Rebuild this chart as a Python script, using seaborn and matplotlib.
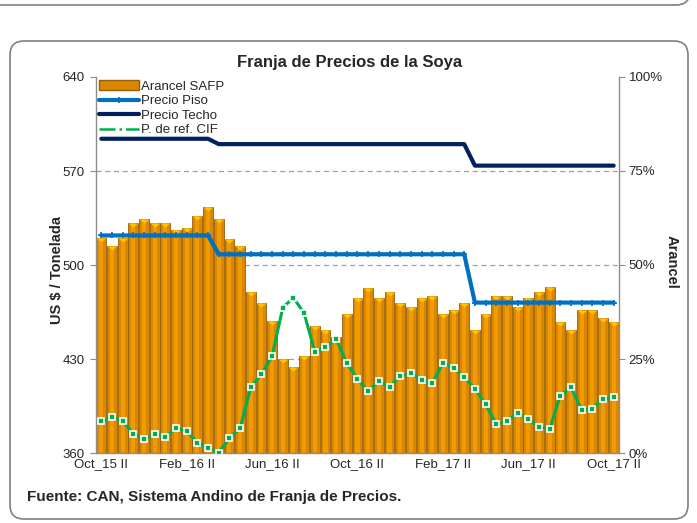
"""
Franja de Precios de la Soya
Arancel SAFP (bars, right axis) with price band lines (left axis)
"""

import numpy as np
import matplotlib
matplotlib.use('Agg')
import matplotlib.pyplot as plt
import seaborn as sns
from matplotlib.lines import Line2D
from matplotlib.patches import Patch, FancyBboxPatch
from matplotlib.transforms import IdentityTransform

# Periods: second half of Oct 2015 to second half of Oct 2017 (biweekly)
month_labels = ['Jan', 'Feb', 'Mar', 'Apr', 'May', 'Jun', 'Jul', 'Aug', 'Sep', 'Oct', 'Nov', 'Dec']
periods = ['Oct_15 II']
for yr in [15, 16, 17]:
    for i, m in enumerate(month_labels):
        for half in ['I', 'II']:
            if yr == 15 and i < 10:
                continue
            if yr == 17 and (i > 9 or (i == 9 and half == 'II')):
                continue
            periods.append(f'{m}_{yr} {half}')
periods.append('Oct_17 II')

tick_labels = ['Oct_15 II', 'Feb_16 II', 'Jun_16 II', 'Oct_16 II', 'Feb_17 II', 'Jun_17 II', 'Oct_17 II']

# Arancel SAFP (%)
arancel = [57.1, 55.1, 57.1, 61.1, 62.2, 61.1, 61.1, 59.2, 59.9, 63.0,
           65.3, 62.2, 57.0, 55.1, 42.9, 39.9, 35.0, 24.9, 23.0, 25.9,
           33.9, 32.7, 30.9, 36.9, 41.1, 44.0, 41.1, 42.9, 40.0, 38.9,
           41.1, 41.8, 37.0, 38.1, 40.0, 32.8, 37.0, 41.8, 41.8, 38.9,
           41.1, 42.9, 44.1, 34.9, 32.7, 38.0, 38.0, 35.8, 34.9]

# Precio Piso (US$/t)
piso = [522, 522, 522, 522, 522, 522, 522, 522, 522, 522,
        522, 508, 508, 508, 508, 508, 508, 508, 508, 508,
        508, 508, 508, 508, 508, 508, 508, 508, 508, 508,
        508, 508, 508, 508, 508, 472, 472, 472, 472, 472,
        472, 472, 472, 472, 472, 472, 472, 472, 472]

# Precio Techo (US$/t)
techo = [594, 594, 594, 594, 594, 594, 594, 594, 594, 594,
         594, 590, 590, 590, 590, 590, 590, 590, 590, 590,
         590, 590, 590, 590, 590, 590, 590, 590, 590, 590,
         590, 590, 590, 590, 590, 574, 574, 574, 574, 574,
         574, 574, 574, 574, 574, 574, 574, 574, 574]

# P. de ref. CIF (US$/t)
cif = [383.9, 386.8, 383.9, 374.2, 370.2, 374.2, 372.2, 378.4, 376.4, 367.7,
       363.7, 360.3, 371.0, 378.4, 409.0, 418.6, 432.3, 468.2, 475.7, 464.0,
       435.5, 438.7, 444.9, 427.0, 415.1, 406.0, 413.4, 409.0, 417.4, 419.4,
       414.4, 411.9, 427.0, 423.6, 416.4, 407.9, 396.3, 381.4, 383.9, 390.0,
       385.1, 379.6, 377.7, 402.7, 409.0, 392.0, 393.0, 400.5, 401.5]

sns.set_style('white')
plt.rcParams['font.family'] = ['Liberation Sans', 'DejaVu Sans']

BAR = '#DA8600'
BAR_EDGE = '#94600A'
BAR_LIGHT = '#F09A04'
TOP = '#FFC400'
BLUE = '#0070C0'
NAVY = '#002060'
GREEN = '#00B050'
GRAY = '#8C8C8C'

fig = plt.figure(figsize=(6.97, 5.23), dpi=100)
ax = fig.add_axes([96 / 697, 1 - 453 / 523, (619 - 96) / 697, (453 - 77) / 523])
ax2 = ax.twinx()

x = np.arange(len(periods))

# bars (right axis)
sns.barplot(x=periods, y=arancel, order=periods, ax=ax2, color=BAR, saturation=1,
            width=0.92, edgecolor=BAR_EDGE, linewidth=0.6, zorder=2)
ax2.bar(x, arancel, width=0.38, color=BAR_LIGHT, linewidth=0, zorder=3)
top_marker = [(-0.5, 0), (0.5, 0), (0, -0.4), (-0.5, 0)]
ax2.plot(x, arancel, ls='none', marker=top_marker, ms=7.2, color=TOP,
         markeredgewidth=0, zorder=4)
for lvl in [25, 50, 75]:
    ax2.axhline(lvl, color='#A0A0A0', lw=0.9, ls=(0, (4, 3)), zorder=1)
ax2.set_ylim(0, 100)
ax2.set_yticks([0, 25, 50, 75, 100])
ax2.set_yticklabels(['0%', '25%', '50%', '75%', '100%'])
ax2.set_ylabel('')

# lines (left axis), drawn above the bars
ax.set_zorder(ax2.get_zorder() + 1)
ax.patch.set_visible(False)
sns.lineplot(x=x, y=techo, ax=ax, color=NAVY, lw=3, zorder=5)
sns.lineplot(x=x, y=piso, ax=ax, color=BLUE, lw=3, marker='+', ms=5,
             markeredgewidth=1.2, markeredgecolor=BLUE, zorder=6)
sns.lineplot(x=x, y=cif, ax=ax, color=GREEN, lw=2.2, marker='s', ms=4.5,
             markerfacecolor=GREEN, markeredgecolor='white', markeredgewidth=1.2, zorder=7)

ax.set_ylim(360, 640)
ax.set_yticks([360, 430, 500, 570, 640])
ax.set_xlim(-0.5, len(periods) - 0.5)
ax.set_xticks(np.arange(0, len(periods), 8))
ax.set_xticklabels(tick_labels)
ax.set_xticks(np.arange(-0.5, len(periods) - 1, 4), minor=True)
ax.set_xlabel('')
ax.set_ylabel('')

for a in (ax, ax2):
    for s in a.spines.values():
        s.set_color(GRAY)
        s.set_linewidth(1)
    a.spines['top'].set_visible(False)
ax.spines['right'].set_visible(False)
ax2.spines['left'].set_visible(False)
ax2.spines['bottom'].set_visible(False)

ax.tick_params(axis='y', direction='out', length=4, color=GRAY, labelsize=9.5, pad=4)
ax2.tick_params(axis='y', direction='out', length=4, color=GRAY, labelsize=9.5, pad=3)
ax.tick_params(axis='x', which='major', length=0, labelsize=9.5, pad=4)
ax.tick_params(axis='x', which='minor', direction='out', length=4, color=GRAY)

# legend
handles = [
    Patch(facecolor=BAR, edgecolor=BAR_EDGE),
    Line2D([], [], color=BLUE, lw=3, marker='+', ms=5, markeredgewidth=1.2),
    Line2D([], [], color=NAVY, lw=3),
    Line2D([], [], color=GREEN, lw=1.8, ls='-.'),
]
labels = ['Arancel SAFP', 'Precio Piso', 'Precio Techo', 'P. de ref. CIF']
ax.legend(handles, labels, loc='upper left', bbox_to_anchor=(0.0, 1.0), frameon=False,
          fontsize=9.5, handlelength=3.0, handletextpad=0.15, labelspacing=0.18,
          borderpad=0.1, borderaxespad=0.15)

# texts
fig.text(350 / 697, 1 - 62 / 523, 'Franja de Precios de la Soya', ha='center', va='center',
         fontsize=12, fontweight='bold')
fig.text(57 / 697, 1 - 270 / 523, 'US $ / Tonelada', ha='center', va='center',
         rotation=90, fontsize=10.5, fontweight='bold')
fig.text(672 / 697, 1 - 262 / 523, 'Arancel', ha='center', va='center',
         rotation=270, fontsize=10.5, fontweight='bold')
fig.text(27 / 697, 1 - 497 / 523, 'Fuente: CAN, Sistema Andino de Franja de Precios.',
         ha='left', va='center', fontsize=11, fontweight='bold')

# frame around the chart and the bottom edge of the previous one
fig.add_artist(FancyBboxPatch((10, 4), 678, 478, boxstyle='round,pad=0,rounding_size=14',
                              transform=IdentityTransform(), fill=False,
                              edgecolor='#7F7F7F', lw=1.2))
fig.add_artist(FancyBboxPatch((-30, 518), 720, 60, boxstyle='round,pad=0,rounding_size=14',
                              transform=IdentityTransform(), fill=False,
                              edgecolor='#7F7F7F', lw=1.2))

fig.savefig('out.png', dpi=100)
plt.close(fig)
